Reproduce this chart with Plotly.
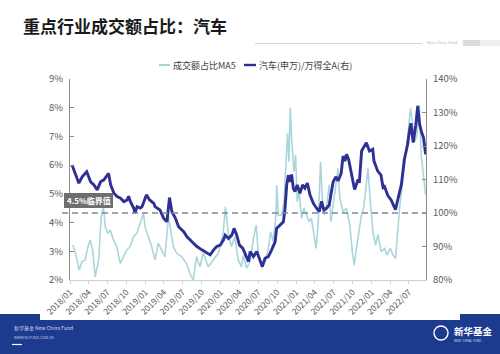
import plotly.graph_objects as go

# ---------------- data ----------------
auto_dates = [
    "2018-01-11", "2018-01-28", "2018-02-13", "2018-03-01", "2018-03-23", "2018-04-11", "2018-04-27",
    "2018-05-13", "2018-05-29", "2018-06-14", "2018-06-30", "2018-07-07", "2018-07-17", "2018-08-02",
    "2018-08-17", "2018-09-03", "2018-09-19", "2018-10-05", "2018-10-12", "2018-10-21", "2018-11-06",
    "2018-11-12", "2018-11-22", "2018-12-08", "2018-12-16", "2019-01-06", "2019-01-22", "2019-02-11",
    "2019-02-17", "2019-03-03", "2019-03-13", "2019-03-31", "2019-04-16", "2019-04-28", "2019-05-10",
    "2019-05-27", "2019-06-11", "2019-07-06", "2019-07-22", "2019-08-15", "2019-09-08", "2019-10-02",
    "2019-10-26", "2019-11-11", "2019-11-28", "2019-12-13", "2019-12-30", "2020-01-15", "2020-01-23",
    "2020-02-08", "2020-02-24", "2020-03-06", "2020-03-19", "2020-04-01", "2020-04-17", "2020-05-03",
    "2020-05-15", "2020-05-23", "2020-06-08", "2020-06-24", "2020-07-10", "2020-07-21", "2020-08-03",
    "2020-08-19", "2020-09-04", "2020-09-21", "2020-09-28", "2020-10-15", "2020-10-31", "2020-11-08",
    "2020-11-16", "2020-11-24", "2020-12-02", "2020-12-10", "2020-12-18", "2020-12-26", "2021-01-06",
    "2021-01-19", "2021-02-01", "2021-02-12", "2021-02-24", "2021-03-09", "2021-03-25", "2021-04-09",
    "2021-04-23", "2021-05-04", "2021-05-15", "2021-05-28", "2021-06-10", "2021-06-21", "2021-06-29",
    "2021-07-12", "2021-07-23", "2021-08-07", "2021-08-16", "2021-08-25", "2021-09-02", "2021-09-12",
    "2021-09-24", "2021-10-11", "2021-10-28", "2021-11-03", "2021-11-14", "2021-11-29", "2021-12-07",
    "2021-12-22", "2022-01-07", "2022-01-13", "2022-01-31", "2022-02-16", "2022-02-26", "2022-03-05",
    "2022-03-21", "2022-04-06", "2022-04-18", "2022-04-27", "2022-05-10", "2022-05-26", "2022-06-09",
    "2022-06-25", "2022-07-05", "2022-07-11", "2022-07-22", "2022-08-03", "2022-08-13", "2022-08-22",
    "2022-09-01", "2022-09-10", "2022-09-20",
]
auto_ratio = [
    114.3, 111.3, 108.9, 110.8, 112.3, 109.3, 108.4,
    106.9, 109.3, 109.9, 111.3, 111.8, 108.4, 105.9,
    104.9, 104.4, 103.4, 103.9, 105.0, 103.4, 101.4,
    100.0, 101.9, 101.5, 101.9, 105.4, 103.9, 102.9,
    101.9, 101.4, 100.9, 98.4, 97.4, 104.6, 100.4,
    98.4, 95.9, 94.4, 92.9, 91.4, 90.0, 89.0,
    88.0, 87.5, 89.0, 90.0, 90.4, 92.0, 93.4,
    92.4, 93.4, 95.4, 93.4, 90.4, 89.5, 87.0,
    85.5, 88.5, 87.0, 88.5, 86.0, 84.0, 86.5,
    87.0, 89.0, 91.4, 95.4, 96.4, 97.4, 101.4,
    108.4, 111.3, 109.3, 111.5, 107.4, 106.4, 108.4,
    105.9, 108.4, 107.4, 108.9, 105.4, 102.9, 101.5,
    100.4, 103.5, 100.9, 101.4, 102.4, 106.4, 109.3,
    110.8, 109.6, 111.8, 117.0, 115.5, 117.5, 116.0,
    112.5, 107.0, 110.0, 109.0, 118.5, 120.3, 121.0,
    118.5, 119.0, 115.5, 112.5, 111.3, 107.6, 107.9,
    105.2, 103.9, 101.9, 101.0, 104.4, 108.6, 116.0,
    120.5, 125.0, 126.8, 121.0, 126.0, 132.0, 126.5,
    124.0, 122.5, 117.5,
]

share_dates = [
    "2018-01-14", "2018-01-24", "2018-02-04", "2018-02-15", "2018-02-28", "2018-03-16", "2018-03-29",
    "2018-04-09", "2018-04-21", "2018-05-03", "2018-05-20", "2018-06-01", "2018-06-12", "2018-06-21",
    "2018-07-04", "2018-07-15", "2018-07-31", "2018-08-16", "2018-09-01", "2018-09-17", "2018-10-03",
    "2018-10-19", "2018-11-05", "2018-11-21", "2018-12-07", "2018-12-23", "2018-12-31", "2019-01-16",
    "2019-02-01", "2019-02-17", "2019-03-05", "2019-03-21", "2019-04-06", "2019-04-23", "2019-04-30",
    "2019-05-17", "2019-06-02", "2019-06-26", "2019-07-20", "2019-08-05", "2019-08-21", "2019-09-06",
    "2019-09-22", "2019-10-09", "2019-11-02", "2019-11-26", "2019-12-20", "2020-01-13", "2020-01-24",
    "2020-02-07", "2020-02-22", "2020-03-09", "2020-03-26", "2020-04-11", "2020-04-20", "2020-05-06",
    "2020-05-23", "2020-06-08", "2020-06-21", "2020-07-02", "2020-07-18", "2020-08-03", "2020-08-19",
    "2020-08-30", "2020-09-12", "2020-09-25", "2020-09-29", "2020-10-06", "2020-10-22", "2020-11-03",
    "2020-11-12", "2020-11-20", "2020-11-27", "2020-12-03", "2020-12-11", "2020-12-21", "2020-12-29",
    "2021-01-06", "2021-01-16", "2021-01-27", "2021-02-08", "2021-02-20", "2021-03-05", "2021-03-16",
    "2021-03-28", "2021-04-07", "2021-04-18", "2021-04-29", "2021-05-08", "2021-05-20", "2021-05-31",
    "2021-06-10", "2021-06-18", "2021-06-29", "2021-07-12", "2021-07-23", "2021-07-31", "2021-08-16",
    "2021-09-01", "2021-09-18", "2021-09-30", "2021-10-09", "2021-10-20", "2021-11-02", "2021-11-13",
    "2021-11-24", "2021-12-04", "2021-12-15", "2021-12-26", "2022-01-08", "2022-01-21", "2022-02-01",
    "2022-02-17", "2022-03-06", "2022-03-17", "2022-04-02", "2022-04-15", "2022-04-28", "2022-05-09",
    "2022-05-17", "2022-05-30", "2022-06-10", "2022-06-22", "2022-07-01", "2022-07-09", "2022-07-21",
    "2022-07-30", "2022-08-09", "2022-08-20", "2022-08-30", "2022-09-10", "2022-09-20",
]
share_ma5 = [
    3.22, 3.04, 2.70, 2.35, 2.64, 2.70, 3.16,
    3.39, 3.04, 2.11, 2.70, 4.20, 4.55, 3.85,
    3.62, 3.74, 3.39, 3.16, 2.58, 2.81, 3.04,
    3.16, 3.51, 3.63, 3.97, 4.32, 3.85, 3.51,
    3.16, 2.70, 3.28, 3.04, 2.81, 4.20, 3.85,
    3.16, 2.93, 2.81, 2.58, 2.23, 2.00, 2.81,
    2.46, 2.93, 2.46, 2.70, 2.93, 3.63, 4.55,
    3.63, 3.16, 3.51, 2.70, 2.46, 2.87, 2.41,
    2.64, 3.45, 3.91, 2.87, 2.41, 2.64, 3.10,
    3.68, 3.33, 4.26, 5.31, 4.26, 4.26, 4.73,
    6.12, 7.10, 6.12, 8.00, 6.82, 5.77, 6.35,
    4.73, 5.08, 4.15, 4.50, 4.26, 4.03, 4.15,
    3.57, 3.10, 4.03, 6.12, 4.73, 4.26, 4.73,
    5.31, 4.03, 4.61, 5.31, 5.89, 4.85, 4.38,
    4.50, 3.91, 2.99, 2.52, 3.10, 3.68, 4.26,
    4.50, 5.08, 5.89, 4.73, 3.68, 3.22, 3.57,
    2.99, 3.10, 2.87, 3.10, 2.87, 2.75, 3.80,
    4.50, 5.31, 6.12, 6.82, 7.40, 7.98, 7.28,
    6.82, 7.05, 8.10, 6.35, 5.66, 4.96,
]

left_ticks = [2, 3, 4, 5, 6, 7, 8, 9]
right_ticks = [80, 90, 100, 110, 120, 130, 140]
threshold_right = 100
series_names = ["成交额占比MA5", "汽车(申万)/万得全A(右)"]
title_text = "重点行业成交额占比：汽车"
threshold_label = "4.5%临界值"

# ---------------- styling / layout helpers ----------------
W, H = 500, 354
L, R, T, B = 70, 426, 79, 280
LIGHT = "#a9d6db"
DARK = "#2e3192"
NAVY = "#1c3a8e"


def px(x):
    return (x - L) / (R - L)


def py(y):
    return (B - y) / (B - T)


fig = go.Figure()
fig.add_trace(go.Scatter(x=share_dates, y=share_ma5, mode="lines", name=series_names[0],
                         line=dict(color=LIGHT, width=1.6), yaxis="y"))
fig.add_trace(go.Scatter(x=auto_dates, y=auto_ratio, mode="lines", name=series_names[1],
                         line=dict(color=DARK, width=2.9), yaxis="y2"))

shapes = []
annotations = []

# dashed threshold line (right axis 100%)
shapes.append(dict(type="line", xref="paper", yref="y2", x0=px(62), x1=1, y0=threshold_right,
                   y1=threshold_right, line=dict(color="#7d8a99", width=1.4, dash="6px,4px")))

# threshold label box
shapes.append(dict(type="rect", xref="paper", yref="paper", x0=px(64), x1=px(113), y0=py(208),
                   y1=py(193), fillcolor="#6e6e6e", line=dict(width=0)))
annotations.append(dict(text="<b>" + threshold_label + "</b>", xref="paper", yref="paper",
                        x=px(88.5), y=py(200.5), showarrow=False, xanchor="center", yanchor="middle",
                        font=dict(size=8, color="white", family="Noto Sans CJK SC")))

# legend (manual)
shapes.append(dict(type="line", xref="paper", yref="paper", x0=px(159), x1=px(170), y0=py(65),
                   y1=py(65), line=dict(color=LIGHT, width=2)))
annotations.append(dict(text=series_names[0], xref="paper", yref="paper", x=px(170.5), y=py(65),
                        showarrow=False, xanchor="left", yanchor="middle",
                        font=dict(size=9, color="#404040", family="Noto Sans CJK SC")))
shapes.append(dict(type="line", xref="paper", yref="paper", x0=px(244), x1=px(256), y0=py(65),
                   y1=py(65), line=dict(color=DARK, width=2.4)))
annotations.append(dict(text=series_names[1], xref="paper", yref="paper", x=px(256.5), y=py(65),
                        showarrow=False, xanchor="left", yanchor="middle",
                        font=dict(size=9, color="#404040", family="Noto Sans CJK SC")))

# header
annotations.append(dict(text="<b>" + title_text + "</b>", xref="paper", yref="paper", x=px(21),
                        y=py(26), showarrow=False, xanchor="left", yanchor="middle",
                        font=dict(size=17, color="#1a1a1a", family="Noto Sans CJK SC")))
shapes.append(dict(type="line", xref="paper", yref="paper", x0=px(255), x1=px(422), y0=py(43.5),
                   y1=py(43.5), line=dict(color="#d6d6d6", width=1)))
annotations.append(dict(text="New China Fund", xref="paper", yref="paper", x=px(425), y=py(43),
                        showarrow=False, xanchor="left", yanchor="middle",
                        font=dict(size=4, color="#b0b0b0", family="Open Sans")))
shapes.append(dict(type="rect", xref="paper", yref="paper", x0=px(463), x1=px(480), y0=py(46),
                   y1=py(40), fillcolor="#dcdcdc", line=dict(width=0)))
shapes.append(dict(type="rect", xref="paper", yref="paper", x0=px(480), x1=px(500), y0=py(46),
                   y1=py(40), fillcolor="#eeeeee", line=dict(width=0)))

# footer
shapes.append(dict(type="rect", xref="paper", yref="paper", x0=px(0), x1=px(500), y0=py(354),
                   y1=py(314), fillcolor=NAVY, line=dict(width=0), layer="below"))
shapes.append(dict(type="rect", xref="paper", yref="paper", x0=px(40), x1=px(460), y0=py(320),
                   y1=py(313), fillcolor="white", line=dict(width=0), layer="below"))
annotations.append(dict(text="新华基金 New China Fund", xref="paper", yref="paper", x=px(12),
                        y=py(328), showarrow=False, xanchor="left", yanchor="middle",
                        font=dict(size=5, color="#d8def0", family="Noto Sans CJK SC")))
annotations.append(dict(text="WWW.NCFUND.COM.CN", xref="paper", yref="paper", x=px(12),
                        y=py(337), showarrow=False, xanchor="left", yanchor="middle",
                        font=dict(size=3.5, color="#c8d0ea", family="Open Sans")))
shapes.append(dict(type="line", xref="paper", yref="paper", x0=px(12), x1=px(22), y0=py(344.5),
                   y1=py(344.5), line=dict(color="white", width=1.2)))
shapes.append(dict(type="circle", xref="paper", yref="paper", x0=px(434), x1=px(448), y0=py(340),
                   y1=py(326), line=dict(color="white", width=1.4)))
annotations.append(dict(text="<b>新华基金</b>", xref="paper", yref="paper", x=px(452), y=py(330.5),
                        showarrow=False, xanchor="left", yanchor="middle",
                        font=dict(size=9.5, color="white", family="Noto Sans CJK SC")))
annotations.append(dict(text="NEW  CHINA  FUND", xref="paper", yref="paper", x=px(452), y=py(341),
                        showarrow=False, xanchor="left", yanchor="middle",
                        font=dict(size=3, color="#dde3f3", family="Open Sans")))

fig.update_layout(
    width=W, height=H,
    margin=dict(l=L, r=W - R, t=T, b=H - B, pad=0),
    paper_bgcolor="white", plot_bgcolor="white",
    showlegend=False,
    font=dict(family="Noto Sans CJK SC", color="#595959"),
    xaxis=dict(type="date", range=["2018-01-01", "2022-09-22"], tick0="2018-01-01", dtick="M3",
               tickformat="%Y/%m", tickangle=-45, tickfont=dict(size=8.5, color="#595959"),
               showgrid=False, showline=True, linecolor="#d0d0d0", linewidth=1,
               ticks="outside", ticklen=3, tickcolor="#d0d0d0", zeroline=False),
    yaxis=dict(range=[2, 9], tickvals=left_ticks, ticktext=[f"{v}%" for v in left_ticks],
               showgrid=False, showline=True, linecolor="#8c8c8c", linewidth=1.2,
               ticks="inside", ticklen=4, tickcolor="#8c8c8c", zeroline=False,
               tickfont=dict(size=9.5, color="#595959"), ticklabelstandoff=4),
    yaxis2=dict(range=[80, 140], tickvals=right_ticks, ticktext=[f"{v}%" for v in right_ticks],
                overlaying="y", side="right", showgrid=False, showline=True, linecolor="#8c8c8c",
                linewidth=1.2, ticks="inside", ticklen=4, tickcolor="#8c8c8c", zeroline=False,
                tickfont=dict(size=9.5, color="#595959"), ticklabelstandoff=4),
    shapes=shapes,
    annotations=annotations,
)

fig.write_html("out.html")
